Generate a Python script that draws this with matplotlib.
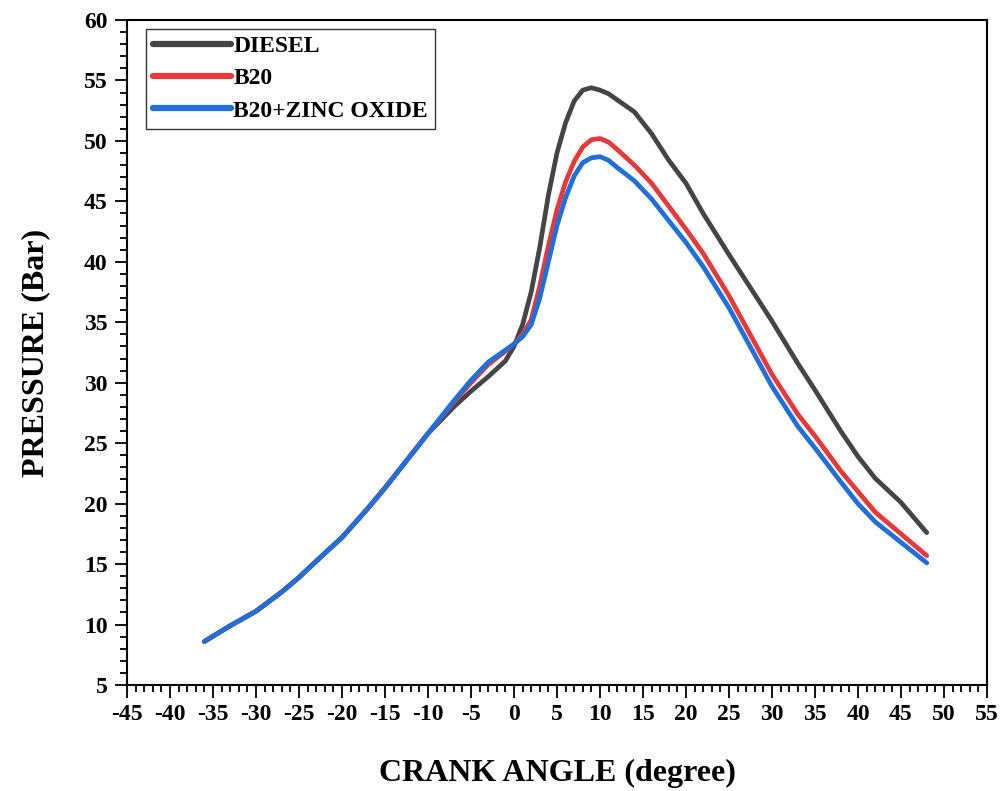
import matplotlib.pyplot as plt
from matplotlib.ticker import MultipleLocator

# ----- data -----
diesel_x = [-36, -33, -30, -27, -25, -22, -20, -17, -15, -12, -10, -7, -5, -3, -1, 0, 1, 2, 3, 4, 5, 6, 7, 8, 9, 10,
            11, 12, 14, 16, 18, 20, 22, 25, 28, 30, 33, 35, 38, 40, 42, 45, 48]
diesel_y = [8.6, 9.9, 11.1, 12.7, 13.9, 15.9, 17.2, 19.6, 21.3, 24.0, 25.8, 28.0, 29.3, 30.5, 31.8, 33.0, 34.8, 37.5,
            41.2, 45.5, 49.0, 51.5, 53.3, 54.2, 54.4, 54.2, 53.9, 53.4, 52.4, 50.6, 48.4, 46.5, 44.0, 40.6, 37.3,
            35.1, 31.6, 29.4, 26.0, 23.9, 22.1, 20.1, 17.6]

b20_x = diesel_x
b20_y = [8.6, 9.9, 11.1, 12.7, 13.9, 15.9, 17.2, 19.6, 21.3, 24.0, 25.8, 28.4, 30.0, 31.5, 32.6, 33.2, 34.0, 35.2,
         38.0, 41.3, 44.3, 46.6, 48.3, 49.5, 50.1, 50.2, 49.9, 49.3, 48.0, 46.5, 44.6, 42.7, 40.7, 37.2, 33.3,
         30.7, 27.4, 25.6, 22.7, 21.0, 19.3, 17.5, 15.7]

zno_x = diesel_x
zno_y = [8.6, 9.9, 11.1, 12.7, 13.9, 15.9, 17.2, 19.6, 21.3, 24.0, 25.8, 28.5, 30.2, 31.7, 32.7, 33.2, 33.8, 34.8,
         37.0, 40.0, 43.0, 45.3, 47.1, 48.2, 48.6, 48.7, 48.4, 47.8, 46.7, 45.2, 43.4, 41.6, 39.6, 36.2, 32.3,
         29.7, 26.4, 24.6, 21.8, 20.0, 18.5, 16.8, 15.1]

labels = ['DIESEL', 'B20', 'B20+ZINC OXIDE']
colores = ['#454545', '#e8393a', '#1f6fdc']

plt.rcParams['font.family'] = ['Liberation Serif', 'DejaVu Serif']
plt.rcParams['axes.unicode_minus'] = False

fig = plt.figure(figsize=(10.03, 7.91), dpi=100)
ax = fig.add_axes([0.1266, 0.134, 0.8574, 0.8407])

ax.plot(diesel_x, diesel_y, color=colores[0], lw=3.4, label=labels[0], solid_capstyle='round', solid_joinstyle='round')
ax.plot(b20_x, b20_y, color=colores[1], lw=3.4, label=labels[1], solid_capstyle='round', solid_joinstyle='round')
ax.plot(zno_x, zno_y, color=colores[2], lw=3.4, label=labels[2], solid_capstyle='round', solid_joinstyle='round')

ax.set_xlim(-45, 55)
ax.set_ylim(5, 60)
ax.xaxis.set_major_locator(MultipleLocator(5))
ax.xaxis.set_minor_locator(MultipleLocator(1))
ax.yaxis.set_major_locator(MultipleLocator(5))
ax.yaxis.set_minor_locator(MultipleLocator(1))
ax.tick_params(which='both', direction='out', width=1.3, top=False, right=False)
ax.tick_params(which='major', length=9, labelsize=17, pad=5)
ax.tick_params(which='minor', length=5)
for lab in ax.get_xticklabels() + ax.get_yticklabels():
    lab.set_fontweight('bold')
for s in ax.spines.values():
    s.set_linewidth(1.5)

ax.set_xlabel('CRANK ANGLE (degree)', fontsize=23, fontweight='bold', labelpad=24)
ax.set_ylabel('PRESSURE (Bar)', fontsize=23, fontweight='bold', labelpad=24)

leg = ax.legend(loc='upper left', bbox_to_anchor=(0.022, 0.987), fancybox=False, edgecolor='black',
                prop={'weight': 'bold', 'size': 17}, handlelength=3.3, handletextpad=0.1,
                borderpad=0.3, labelspacing=0.45, borderaxespad=0)
leg.get_frame().set_linewidth(1.0)
for l in leg.get_lines():
    l.set_linewidth(4.5)

fig.savefig('out.png', dpi=100)
